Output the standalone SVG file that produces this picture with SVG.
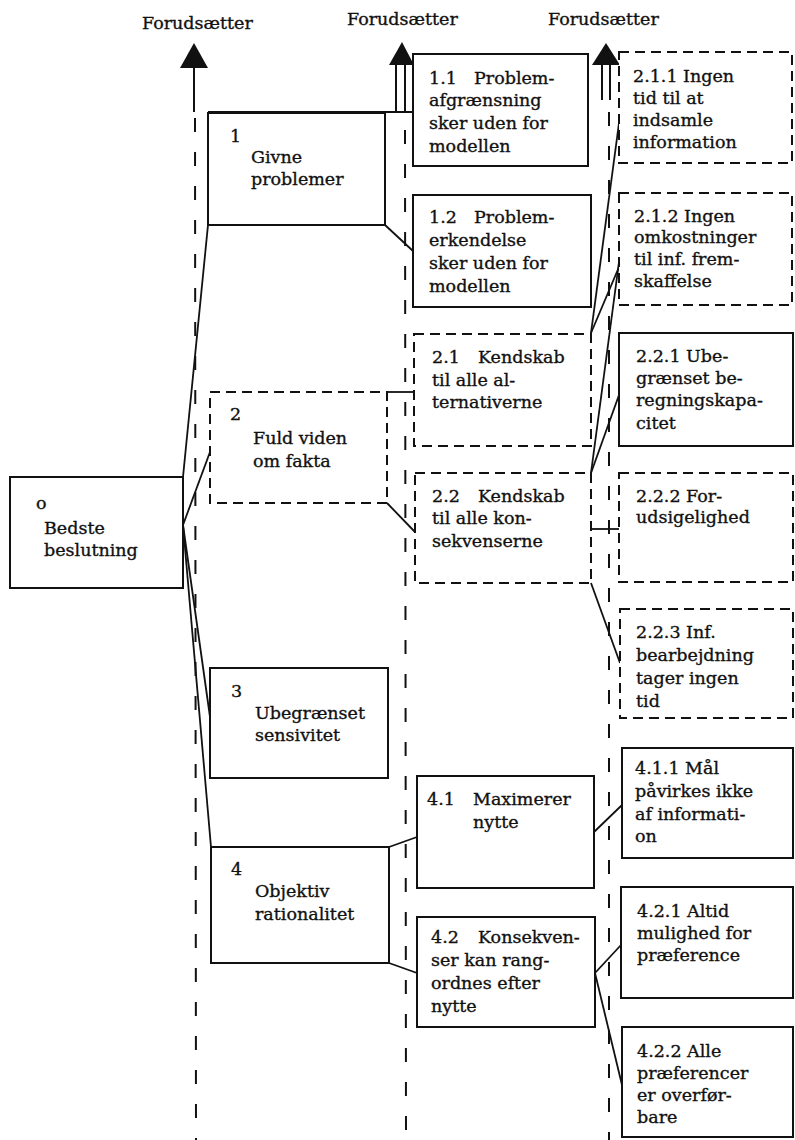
<svg xmlns="http://www.w3.org/2000/svg" width="795" height="1140" viewBox="0 0 795 1140">
  <style>
    text { font-family: "DejaVu Serif", "Liberation Serif", serif; font-size: 17.5px; fill: #111; stroke: #111; stroke-width: 0.35; }
    .box { fill: #fff; stroke: #111; stroke-width: 2; }
    .dbox { fill: #fff; stroke: #111; stroke-width: 2; stroke-dasharray: 10 6; }
    .col { fill: none; stroke: #111; stroke-width: 2; stroke-dasharray: 14 20; }
    .shaft { fill: none; stroke: #111; stroke-width: 2; }
    .link { fill: none; stroke: #111; stroke-width: 1.8; }
    .head { fill: #111; }
  </style>

  <!-- "Forudsætter" columns: arrow heads, solid shafts and dashed guide lines -->
  <g id="columns">
    <text x="142" y="29">Forudsætter</text>
    <text x="347" y="25">Forudsætter</text>
    <text x="548" y="25">Forudsætter</text>

    <polygon class="head" points="194,43 180,68 208,68"/>
    <line class="shaft" x1="194" y1="68" x2="194" y2="112"/>
    <line class="col" x1="195" y1="118" x2="196" y2="1140"/>

    <polygon class="head" points="402,42 389,65 414,65"/>
    <line class="shaft" x1="396" y1="65" x2="396" y2="112"/>
    <line class="shaft" x1="405" y1="65" x2="405" y2="112"/>
    <line class="col" x1="405" y1="130" x2="406" y2="1140"/>

    <polygon class="head" points="606,43 592,65 620,65"/>
    <line class="shaft" x1="602" y1="65" x2="602" y2="100"/>
    <line class="shaft" x1="610" y1="65" x2="610" y2="100"/>
    <line class="col" x1="609" y1="112" x2="609" y2="1140"/>
  </g>

  <!-- tree connectors -->
  <g id="connectors">
    <!-- 0 to 1, 2, 3, 4 -->
    <line class="link" x1="183" y1="477" x2="208" y2="225"/>
    <line class="link" x1="183" y1="525" x2="210" y2="452"/>
    <line class="link" x1="183" y1="525" x2="210" y2="717"/>
    <line class="link" x1="183" y1="525" x2="211" y2="847"/>
    <!-- 1 to 1.1, 1.2 -->
    <line class="link" x1="208" y1="112" x2="413" y2="112"/>
    <line class="link" x1="385" y1="225" x2="413" y2="251"/>
    <!-- 2 to 2.1, 2.2 -->
    <line class="link" x1="387" y1="392" x2="414" y2="392"/>
    <line class="link" x1="387" y1="503" x2="415" y2="532"/>
    <!-- 2.1 to 2.1.1, 2.1.2 -->
    <line class="link" x1="591" y1="333" x2="619" y2="123"/>
    <line class="link" x1="591" y1="333" x2="619" y2="267"/>
    <!-- 2.2 to 2.1.2, 2.2.1, 2.2.2, 2.2.3 -->
    <line class="link" x1="591" y1="473" x2="619" y2="262"/>
    <line class="link" x1="591" y1="473" x2="619" y2="395"/>
    <line class="link" x1="591" y1="529" x2="619" y2="529"/>
    <line class="link" x1="591" y1="583" x2="620" y2="663"/>
    <!-- 4 to 4.1, 4.2 -->
    <line class="link" x1="389" y1="847" x2="417" y2="837"/>
    <line class="link" x1="389" y1="963" x2="417" y2="973"/>
    <!-- 4.1 to 4.1.1 -->
    <line class="link" x1="594" y1="832" x2="622" y2="805"/>
    <!-- 4.2 to 4.2.1, 4.2.2 -->
    <line class="link" x1="595" y1="973" x2="621" y2="945"/>
    <line class="link" x1="595" y1="973" x2="622" y2="1085"/>
  </g>

  <!-- level 0 -->
  <g id="node-0">
    <rect class="box" x="10" y="477" width="173" height="111"/>
    <text x="36" y="509">o</text>
    <text x="44" y="534">Bedste</text>
    <text x="44" y="556">beslutning</text>
  </g>

  <!-- level 1 -->
  <g id="node-1">
    <rect class="box" x="208" y="113" width="177" height="112"/>
    <text x="230" y="142">1</text>
    <text x="251" y="163">Givne</text>
    <text x="251" y="185">problemer</text>
  </g>
  <g id="node-2">
    <rect class="dbox" x="210" y="392" width="177" height="111"/>
    <text x="230" y="420">2</text>
    <text x="253" y="444">Fuld viden</text>
    <text x="253" y="467">om fakta</text>
  </g>
  <g id="node-3">
    <rect class="box" x="210" y="668" width="178" height="110"/>
    <text x="231" y="697">3</text>
    <text x="255" y="719">Ubegrænset</text>
    <text x="255" y="741">sensivitet</text>
  </g>
  <g id="node-4">
    <rect class="box" x="211" y="847" width="178" height="116"/>
    <text x="231" y="875">4</text>
    <text x="255" y="897">Objektiv</text>
    <text x="255" y="920">rationalitet</text>
  </g>

  <!-- level 2 -->
  <g id="node-1-1">
    <rect class="box" x="413" y="54" width="175" height="112"/>
    <text x="429" y="84">1.1<tspan x="474">Problem-</tspan></text>
    <text x="429" y="106">afgrænsning</text>
    <text x="429" y="129">sker uden for</text>
    <text x="429" y="152">modellen</text>
  </g>
  <g id="node-1-2">
    <rect class="box" x="413" y="195" width="178" height="112"/>
    <text x="429" y="223">1.2<tspan x="474">Problem-</tspan></text>
    <text x="429" y="246">erkendelse</text>
    <text x="429" y="269">sker uden for</text>
    <text x="429" y="292">modellen</text>
  </g>
  <g id="node-2-1">
    <rect class="dbox" x="414" y="334" width="177" height="112"/>
    <text x="432" y="363">2.1<tspan x="478">Kendskab</tspan></text>
    <text x="432" y="386">til alle al-</text>
    <text x="432" y="408">ternativerne</text>
  </g>
  <g id="node-2-2">
    <rect class="dbox" x="415" y="473" width="176" height="110"/>
    <text x="432" y="502">2.2<tspan x="478">Kendskab</tspan></text>
    <text x="432" y="524">til alle kon-</text>
    <text x="432" y="547">sekvenserne</text>
  </g>
  <g id="node-4-1">
    <rect class="box" x="417" y="776" width="177" height="112"/>
    <text x="427" y="805">4.1<tspan x="473">Maximerer</tspan></text>
    <text x="473" y="828">nytte</text>
  </g>
  <g id="node-4-2">
    <rect class="box" x="417" y="917" width="178" height="110"/>
    <text x="431" y="943">4.2<tspan x="478">Konsekven-</tspan></text>
    <text x="431" y="966">ser kan rang-</text>
    <text x="431" y="989">ordnes efter</text>
    <text x="431" y="1012">nytte</text>
  </g>

  <!-- level 3 -->
  <g id="node-2-1-1">
    <rect class="dbox" x="619" y="52" width="173" height="111"/>
    <text x="633" y="82">2.1.1 Ingen</text>
    <text x="633" y="104">tid til at</text>
    <text x="633" y="126">indsamle</text>
    <text x="633" y="148">information</text>
  </g>
  <g id="node-2-1-2">
    <rect class="dbox" x="619" y="193" width="173" height="112"/>
    <text x="634" y="222">2.1.2 Ingen</text>
    <text x="634" y="243">omkostninger</text>
    <text x="634" y="265">til inf. frem-</text>
    <text x="634" y="287">skaffelse</text>
  </g>
  <g id="node-2-2-1">
    <rect class="box" x="619" y="333" width="174" height="113"/>
    <text x="636" y="362">2.2.1 Ube-</text>
    <text x="636" y="384">grænset be-</text>
    <text x="636" y="406">regningskapa-</text>
    <text x="636" y="429">citet</text>
  </g>
  <g id="node-2-2-2">
    <rect class="dbox" x="619" y="473" width="174" height="109"/>
    <text x="636" y="502">2.2.2 For-</text>
    <text x="636" y="523">udsigelighed</text>
  </g>
  <g id="node-2-2-3">
    <rect class="dbox" x="620" y="609" width="173" height="109"/>
    <text x="636" y="638">2.2.3 Inf.</text>
    <text x="636" y="661">bearbejdning</text>
    <text x="636" y="684">tager ingen</text>
    <text x="636" y="707">tid</text>
  </g>
  <g id="node-4-1-1">
    <rect class="box" x="622" y="748" width="171" height="110"/>
    <text x="635" y="774">4.1.1 Mål</text>
    <text x="635" y="797">påvirkes ikke</text>
    <text x="635" y="820">af informati-</text>
    <text x="635" y="842">on</text>
  </g>
  <g id="node-4-2-1">
    <rect class="box" x="621" y="887" width="172" height="111"/>
    <text x="637" y="917">4.2.1 Altid</text>
    <text x="637" y="939">mulighed for</text>
    <text x="637" y="961">præference</text>
  </g>
  <g id="node-4-2-2">
    <rect class="box" x="622" y="1027" width="171" height="110"/>
    <text x="637" y="1057">4.2.2 Alle</text>
    <text x="637" y="1079">præferencer</text>
    <text x="637" y="1101">er overfør-</text>
    <text x="637" y="1123">bare</text>
  </g>
</svg>
